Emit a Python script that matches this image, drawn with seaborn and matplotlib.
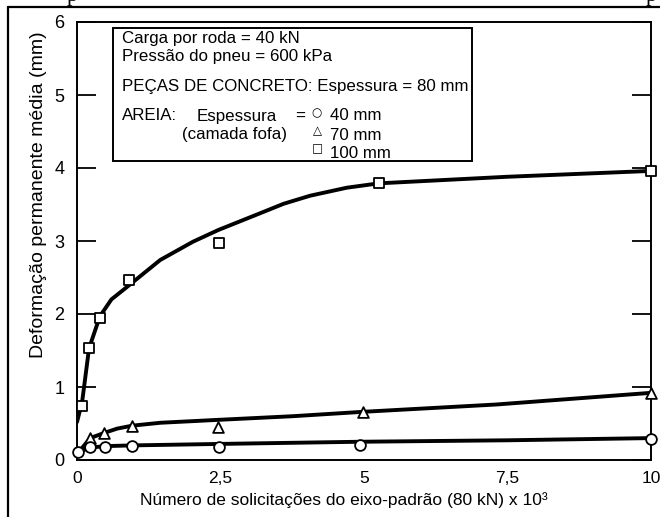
import matplotlib
matplotlib.use("Agg")
import matplotlib.pyplot as plt
from matplotlib.lines import Line2D
from matplotlib.patches import Rectangle
import seaborn as sns
import pandas as pd

# ---- measured points (x in 10^3 repetitions, y in mm) ----
x_pts_100 = [0.09, 0.21, 0.40, 0.90, 2.47, 5.26, 10.0]
y_pts_100 = [0.74, 1.53, 1.94, 2.47, 2.97, 3.79, 3.96]
x_pts_70 = [0.23, 0.47, 0.96, 2.46, 4.98, 10.0]
y_pts_70 = [0.30, 0.37, 0.47, 0.45, 0.66, 0.92]
x_pts_40 = [0.02, 0.23, 0.49, 0.96, 2.47, 4.93, 10.0]
y_pts_40 = [0.11, 0.18, 0.18, 0.19, 0.18, 0.20, 0.29]

# ---- fitted curves ----
x_fit_100 = [0.0, 0.09, 0.21, 0.40, 0.6, 0.87, 1.45, 2.02, 2.46, 3.19, 3.6, 4.06, 4.7, 5.26, 7.5, 10.0]
y_fit_100 = [0.52, 0.80, 1.53, 1.97, 2.20, 2.37, 2.74, 2.99, 3.15, 3.38, 3.51, 3.62, 3.73, 3.79, 3.88, 3.96]
x_fit_70 = [0.02, 0.23, 0.47, 0.7, 0.96, 1.45, 2.46, 3.76, 4.98, 7.3, 10.0]
y_fit_70 = [0.10, 0.30, 0.37, 0.43, 0.47, 0.51, 0.55, 0.60, 0.66, 0.76, 0.92]
x_fit_40 = [0.0, 0.23, 0.49, 0.96, 2.47, 4.93, 7.5, 10.0]
y_fit_40 = [0.10, 0.17, 0.19, 0.20, 0.22, 0.25, 0.27, 0.30]

x_ticks = [0, 2.5, 5, 7.5, 10]
x_tick_labels = ["0", "2,5", "5", "7,5", "10"]
y_ticks = [0, 1, 2, 3, 4, 5, 6]

sns.set_theme(style="white")
plt.rcParams["font.family"] = ["Liberation Sans", "DejaVu Sans"]

fig = plt.figure(figsize=(6.6, 5.17), dpi=100)
W, H = 660, 517
L, R, T, B = 77, 651, 22, 460
ax = fig.add_axes([L / W, 1 - B / H, (R - L) / W, (B - T) / H])

for xs, ys in [(x_fit_100, y_fit_100), (x_fit_70, y_fit_70), (x_fit_40, y_fit_40)]:
    sns.lineplot(x=xs, y=ys, ax=ax, color="black", lw=2.8, sort=False,
                 estimator=None, zorder=3)

for xs, ys, mk, s in [(x_pts_100, y_pts_100, "s", 55),
                      (x_pts_70, y_pts_70, "^", 60),
                      (x_pts_40, y_pts_40, "o", 60)]:
    sns.scatterplot(x=xs, y=ys, ax=ax, marker=mk, s=s, facecolor="white",
                    edgecolor="black", linewidth=1.3, zorder=5, clip_on=False)

ax.set_xlim(0, 10)
ax.set_ylim(0, 6)
ax.set_xticks(x_ticks)
ax.set_xticklabels(x_tick_labels)
ax.set_yticks(y_ticks)
ax.tick_params(axis="x", length=0, pad=8, labelsize=12.5, colors="black")
ax.tick_params(axis="y", direction="in", length=14, width=1.3, pad=9,
               labelsize=13, right=True, left=True, colors="black")
for sp in ax.spines.values():
    sp.set_color("black")
    sp.set_linewidth(1.4)

ax.set_xlabel("Número de solicitações do eixo-padrão (80 kN) x 10³",
              fontsize=12.5, color="black")
ax.xaxis.set_label_coords(0.465, -0.074)
ax.xaxis.label.set_va("top")
ax.set_ylabel("Deformação permanente média (mm)", fontsize=14, color="black")
ax.yaxis.set_label_coords(-0.052, 0.605)

# ---- annotation box ----
bx0, bx1 = (113 - L) / (R - L), (472 - L) / (R - L)
by0, by1 = (B - 161) / (B - T), (B - 28) / (B - T)
ax.add_patch(Rectangle((bx0, by0), bx1 - bx0, by1 - by0, transform=ax.transAxes,
                       fill=True, facecolor="white", edgecolor="black", lw=1.4,
                       zorder=6))

def fx(px):
    return (px - L) / (R - L)

def fy(py):
    return (B - py) / (B - T)

fs = 12.2
txt = dict(transform=ax.transAxes, fontsize=fs, va="center", ha="left",
           color="black", zorder=7)
ax.text(fx(122), fy(38), "Carga por roda = 40 kN", **txt)
ax.text(fx(122), fy(57), "Pressão do pneu = 600 kPa", **txt)
ax.text(fx(122), fy(87), "PEÇAS DE CONCRETO: Espessura = 80 mm", **txt)
ax.text(fx(122), fy(116), "AREIA:", **txt)
ax.text(fx(197), fy(116), "Espessura", **txt)
ax.text(fx(295), fy(116), "=", **txt)
ax.text(fx(182), fy(135), "(camada fofa)", **txt)
ax.text(fx(330), fy(116), "40 mm", **txt)
ax.text(fx(330), fy(135), "70 mm", **txt)
ax.text(fx(330), fy(153), "100 mm", **txt)
sym = dict(transform=ax.transAxes, va="center", ha="center",
           color="black", zorder=7, family="DejaVu Sans")
ax.text(fx(317), fy(113), "○", fontsize=8.5, **sym)
ax.text(fx(317), fy(131), "△", fontsize=8.5, **sym)
ax.text(fx(317), fy(149), "□", fontsize=8.5, **sym)

# ---- scan frame ----
fig.add_artist(Line2D([8 / W, 1], [1 - 7 / H, 1 - 7 / H], color="black", lw=1.6,
                      transform=fig.transFigure))
fig.add_artist(Line2D([8 / W, 8 / W], [1 - 7 / H, 0], color="black", lw=1.6,
                      transform=fig.transFigure))
fig.text(72 / W, 1 - 1 / H, "p", family="Liberation Serif", fontsize=16,
         va="baseline", ha="center", color="black")
fig.text(651 / W, 1 - 1 / H, "p", family="Liberation Serif", fontsize=16,
         va="baseline", ha="center", color="black")

fig.savefig("out.png", dpi=100, facecolor="white")
